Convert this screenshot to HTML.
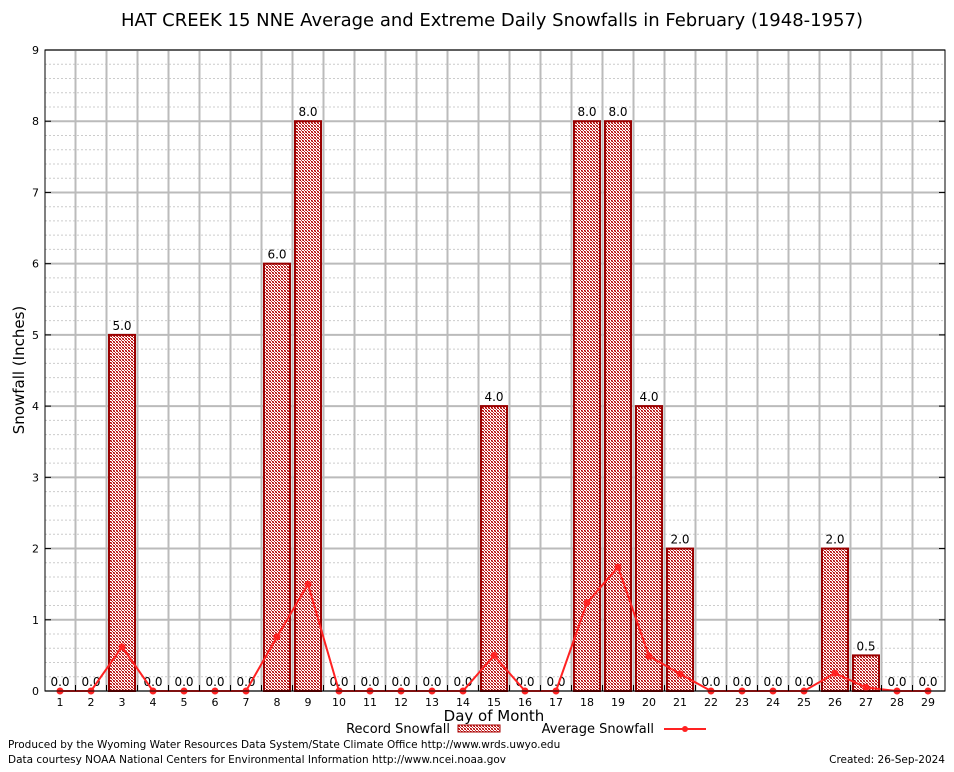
<!DOCTYPE html>
<html><head><meta charset="utf-8"><style>
body{margin:0;background:#fff;font-family:"DejaVu Sans","Liberation Sans",sans-serif}
svg text{font-family:"DejaVu Sans","Liberation Sans",sans-serif}
</style></head><body>
<svg id="chart" width="954" height="768" xmlns="http://www.w3.org/2000/svg">
<defs><pattern id="hatch" width="3" height="3" patternUnits="userSpaceOnUse"><rect width="3" height="3" fill="#fff"/><rect width="1" height="1" fill="#a00"/><rect x="1" y="1" width="1" height="1" fill="#c33"/><rect x="2" y="2" width="1" height="1" fill="#a00"/><rect x="2" y="0" width="1" height="1" fill="#d66"/><rect x="0" y="2" width="1" height="1" fill="#d66"/></pattern></defs>
<rect width="954" height="768" fill="#fff"/>
<text x="492" y="26" font-size="18" text-anchor="middle">HAT CREEK 15 NNE Average and Extreme Daily Snowfalls in February (1948-1957)</text>
<g id="grid"></g><g id="bars"></g><g id="line"></g><g id="axes"></g>
<text transform="translate(24,370) rotate(-90)" font-size="15" text-anchor="middle">Snowfall (Inches)</text>
<text x="494" y="721" font-size="15" text-anchor="middle">Day of Month</text>
<g><text x="450" y="733" font-size="13" text-anchor="end">Record Snowfall</text><rect x="458" y="725" width="42" height="7" fill="url(#hatch)" stroke="#a00"/></g>
<g><text x="654" y="733" font-size="13" text-anchor="end">Average Snowfall</text><line x1="664" y1="729" x2="706" y2="729" stroke="#f22" stroke-width="2"/><circle cx="685" cy="729" r="3" fill="#f22"/></g>
<text x="8" y="748" font-size="10.5">Produced by the Wyoming Water Resources Data System/State Climate Office http://www.wrds.uwyo.edu</text>
<text x="8" y="763" font-size="10.5">Data courtesy NOAA National Centers for Environmental Information http://www.ncei.noaa.gov</text>
<text x="945" y="763" font-size="10.5" text-anchor="end">Created: 26-Sep-2024</text>
</svg>
<script>
const days=[1,2,3,4,5,6,7,8,9,10,11,12,13,14,15,16,17,18,19,20,21,22,23,24,25,26,27,28,29];
const recordSnow=[0,0,5,0,0,0,0,6,8,0,0,0,0,0,4,0,0,8,8,4,2,0,0,0,0,2,0.5,0,0];
const avgSnow=[0,0,0.62,0,0,0,0,0.76,1.5,0,0,0,0,0,0.5,0,0,1.24,1.74,0.49,0.24,0,0,0,0,0.25,0.05,0,0];
const yTicks=[0,1,2,3,4,5,6,7,8,9];
const L=45,R=945,T=50,B=691;
const x=d=>60+(d-1)*31;
const y=v=>B-(v/9)*(B-T);
const NS='http://www.w3.org/2000/svg';
function mk(p,tag,a){const e=document.createElementNS(NS,tag);for(const k in a)e.setAttribute(k,a[k]);document.getElementById(p).appendChild(e);return e;}
for(let v=0;v<9;v+=0.2){const e=mk('grid','line',{x1:L,x2:R,y1:y(v),y2:y(v),stroke:'#ccc','stroke-dasharray':'2,2','stroke-width':1});

}
yTicks.forEach(t=>{const e=mk('grid','line',{x1:L,x2:R,y1:y(t),y2:y(t),stroke:'#bbb','stroke-width':2});


const tx=mk('axes','text',{x:L-6,y:y(t)+4,'font-size':11,'text-anchor':'end','font-family':'Liberation Serif, serif'});tx.textContent=t;


mk('axes','line',{x1:L,x2:L+6,y1:y(t),y2:y(t),stroke:'#000'});mk('axes','line',{x1:R,x2:R-6,y1:y(t),y2:y(t),stroke:'#000'});});
days.forEach(d=>{if(d<29){const e=mk('grid','line',{x1:x(d)+15.5,x2:x(d)+15.5,y1:T,y2:B,stroke:'#bbb','stroke-width':2});


mk('axes','line',{x1:x(d)+15.5,x2:x(d)+15.5,y1:B,y2:B-6,stroke:'#000'});}
const tx=mk('axes','text',{x:x(d),y:B+15,'font-size':11,'text-anchor':'middle','font-family':'Liberation Serif, serif'});tx.textContent=d;

});
days.forEach((d,i)=>{const v=recordSnow[i];
if(v>0){const r=mk('bars','rect',{x:x(d)-13,y:y(v),width:26,height:B-y(v),fill:'url(#hatch)',stroke:'#900','stroke-width':2});

}
const t=mk('bars','text',{x:x(d),y:y(v)-5,'font-size':12,'text-anchor':'middle'});t.textContent=v.toFixed(1);

});
const pts=days.map((d,i)=>x(d)+','+y(avgSnow[i])).join(' ');
const pl=mk('line','polyline',{points:pts,fill:'none',stroke:'#f22','stroke-width':2});


days.forEach((d,i)=>{const c=mk('line','circle',{cx:x(d),cy:y(avgSnow[i]),r:3.5,fill:'#f22'});

});
const f=mk('axes','rect',{x:L,y:T,width:R-L,height:B-T,fill:'none',stroke:'#000','stroke-width':1});


</script>
</body></html>
